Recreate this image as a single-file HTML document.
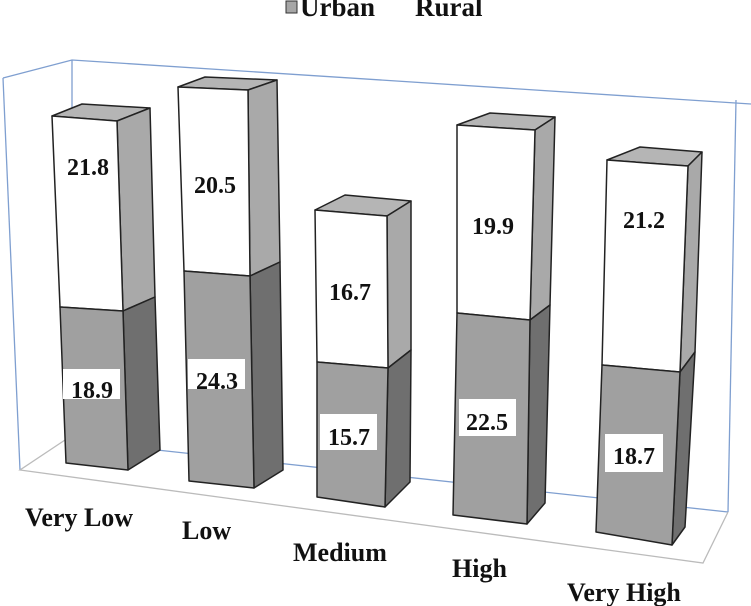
<!DOCTYPE html>
<html><head><meta charset="utf-8"><style>
html,body{margin:0;padding:0;background:#fff;}
svg{display:block}
text{font-family:"Liberation Serif",serif;font-weight:bold;fill:#111}
</style></head><body>
<svg width="751" height="606" viewBox="0 0 751 606" xmlns="http://www.w3.org/2000/svg">
<rect width="751" height="606" fill="#fff"/>
<rect x="286" y="1" width="11" height="12" fill="#a6a6a6" stroke="#333" stroke-width="1"/>
<text x="300" y="16" font-size="27">Urban</text>
<text x="415" y="16" font-size="27">Rural</text>
<g fill="none" stroke="#7f9fd0" stroke-width="1.3">
<polyline points="3,78 72,60 751,104"/>
<line x1="3" y1="78" x2="20" y2="470"/>
<line x1="72" y1="60" x2="72" y2="440"/>
<line x1="65" y1="440" x2="728" y2="512"/>
<line x1="736" y1="100" x2="728" y2="512"/>
</g>
<g fill="none" stroke="#bbb" stroke-width="1.3">
<polyline points="65,440 20,470 703,563 728,512"/>
</g>
<g stroke="#222" stroke-width="1.5" stroke-linejoin="round">
<polygon points="52,116 117,121 150,108 82,104" fill="#b5b5b5"/>
<polygon points="117,121 150,108 155,297 123,311" fill="#a9a9a9"/>
<polygon points="123,311 155,297 160,450 128,470" fill="#6f6f6f"/>
<polygon points="52,116 117,121 123,311 60,307" fill="#fff"/>
<polygon points="60,307 123,311 128,470 66,463" fill="#a0a0a0"/>
<polygon points="178,87 248,90 277,80 205,77" fill="#b5b5b5"/>
<polygon points="248,90 277,80 280,262 250,276" fill="#a9a9a9"/>
<polygon points="250,276 280,262 283,470 254,488" fill="#6f6f6f"/>
<polygon points="178,87 248,90 250,276 184,271" fill="#fff"/>
<polygon points="184,271 250,276 254,488 189,481" fill="#a0a0a0"/>
<polygon points="315,210 387,216 411,201 345,195" fill="#b5b5b5"/>
<polygon points="387,216 411,201 411,350 388,368" fill="#a9a9a9"/>
<polygon points="388,368 411,350 410,482 385,507" fill="#6f6f6f"/>
<polygon points="315,210 387,216 388,368 317,362" fill="#fff"/>
<polygon points="317,362 388,368 385,507 317,497" fill="#a0a0a0"/>
<polygon points="457,125 535,130 555,117 490,113" fill="#b5b5b5"/>
<polygon points="535,130 555,117 550,305 530,320" fill="#a9a9a9"/>
<polygon points="530,320 550,305 545,503 527,524" fill="#6f6f6f"/>
<polygon points="457,125 535,130 530,320 457,313" fill="#fff"/>
<polygon points="457,313 530,320 527,524 453,515" fill="#a0a0a0"/>
<polygon points="607,160 688,166 702,152 640,147" fill="#b5b5b5"/>
<polygon points="688,166 702,152 695,352 680,372" fill="#a9a9a9"/>
<polygon points="680,372 695,352 685,527 672,545" fill="#6f6f6f"/>
<polygon points="607,160 688,166 680,372 602,365" fill="#fff"/>
<polygon points="602,365 680,372 672,545 596,532" fill="#a0a0a0"/>
</g>
<g fill="#fff">
<rect x="63" y="369" width="57" height="30"/>
<rect x="188" y="359" width="57" height="30"/>
<rect x="320" y="414" width="57" height="36"/>
<rect x="459" y="399" width="57" height="37"/>
<rect x="605" y="434" width="58" height="38"/>
</g>
<g font-size="24" text-anchor="middle">
<text x="88" y="175">21.8</text>
<text x="215" y="193">20.5</text>
<text x="350" y="300">16.7</text>
<text x="493" y="234">19.9</text>
<text x="644" y="228">21.2</text>
<text x="92" y="398">18.9</text>
<text x="217" y="389">24.3</text>
<text x="349" y="445">15.7</text>
<text x="487" y="430">22.5</text>
<text x="634" y="464">18.7</text>
</g>
<g font-size="26">
<text x="25" y="526">Very Low</text>
<text x="182" y="539">Low</text>
<text x="293" y="561">Medium</text>
<text x="452" y="577">High</text>
<text x="567" y="601">Very High</text>
</g>
</svg>
</body></html>
